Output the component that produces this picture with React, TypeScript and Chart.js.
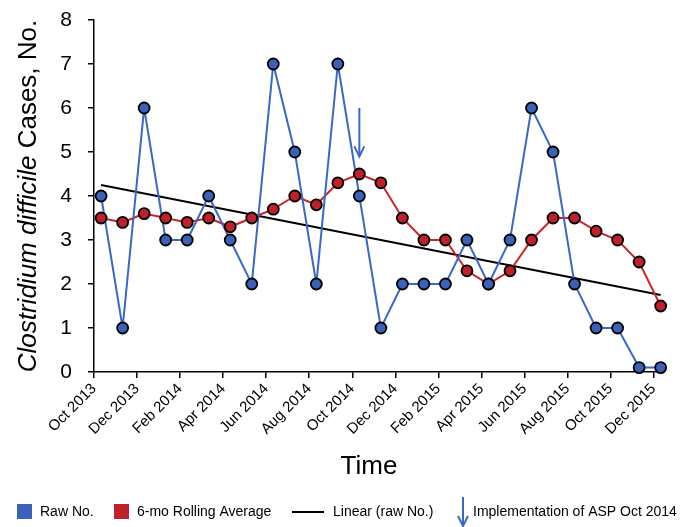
import React, { useEffect, useRef } from "react";
import { Chart, registerables } from "chart.js";

Chart.register(...registerables);

const months = [
  "Oct 2013", "Nov 2013", "Dec 2013", "Jan 2014", "Feb 2014", "Mar 2014", "Apr 2014",
  "May 2014", "Jun 2014", "Jul 2014", "Aug 2014", "Sep 2014", "Oct 2014", "Nov 2014",
  "Dec 2014", "Jan 2015", "Feb 2015", "Mar 2015", "Apr 2015", "May 2015", "Jun 2015",
  "Jul 2015", "Aug 2015", "Sep 2015", "Oct 2015", "Nov 2015", "Dec 2015",
];
const tickLabels = [
  "Oct 2013", "Dec 2013", "Feb 2014", "Apr 2014", "Jun 2014", "Aug 2014", "Oct 2014",
  "Dec 2014", "Feb 2015", "Apr 2015", "Jun 2015", "Aug 2015", "Oct 2015", "Dec 2015",
];
const rawCases = [4, 1, 6, 3, 3, 4, 3, 2, 7, 5, 2, 7, 4, 1, 2, 2, 2, 3, 2, 3, 6, 5, 2, 1, 1, 0.1, 0.1];
const rollingAverage = [
  3.5, 3.4, 3.6, 3.5, 3.4, 3.5, 3.3, 3.5, 3.7, 4.0, 3.8, 4.3, 4.5, 4.3, 3.5, 3.0, 3.0, 2.3,
  2.0, 2.3, 3.0, 3.5, 3.5, 3.2, 3.0, 2.5, 1.5,
];
const trendStart = 4.25;
const trendEnd = 1.75;
const arrowMonth = "Oct 2014";
const arrowFrom = 6.0;
const arrowTo = 4.9;

const FONT = '"Liberation Sans", Arial, sans-serif';
const BLUE_FILL = "#3b62b9";
const BLUE_LINE = "#3a68c6";
const RED_FILL = "#c0202a";
const RED_LINE = "#cc2229";
const POINT_OFFSET = 0.33;

const posOf = (i: number) => i + POINT_OFFSET;

function drawArrow(ctx: CanvasRenderingContext2D, x: number, y1: number, y2: number, color: string) {
  ctx.save();
  ctx.strokeStyle = color;
  ctx.lineWidth = 2;
  ctx.beginPath();
  ctx.moveTo(x, y1);
  ctx.lineTo(x, y2);
  ctx.stroke();
  ctx.beginPath();
  ctx.moveTo(x - 5, y2 - 10);
  ctx.lineTo(x, y2);
  ctx.lineTo(x + 5, y2 - 10);
  ctx.stroke();
  ctx.restore();
}

const decorations = {
  id: "decorations",
  afterDraw(chart: any) {
    const ctx: CanvasRenderingContext2D = chart.ctx;
    const xs = chart.scales.x;
    const ys = chart.scales.y;

    // implementation arrow
    const ai = months.indexOf(arrowMonth);
    drawArrow(ctx, xs.getPixelForValue(posOf(ai)), ys.getPixelForValue(arrowFrom), ys.getPixelForValue(arrowTo), BLUE_LINE);

    // y title
    ctx.save();
    ctx.fillStyle = "#000";
    ctx.textBaseline = "middle";
    ctx.translate(29, 196);
    ctx.rotate(-Math.PI / 2);
    const italicPart = "Clostridium difficile";
    const normalPart = " Cases, No.";
    ctx.font = `italic 26px ${FONT}`;
    const w1 = ctx.measureText(italicPart).width;
    ctx.font = `26px ${FONT}`;
    const w2 = ctx.measureText(normalPart).width;
    const start = -(w1 + w2) / 2;
    ctx.font = `italic 26px ${FONT}`;
    ctx.textAlign = "left";
    ctx.fillText(italicPart, start, 0);
    ctx.font = `26px ${FONT}`;
    ctx.fillText(normalPart, start + w1, 0);
    ctx.restore();

    // x title
    ctx.save();
    ctx.fillStyle = "#000";
    ctx.font = `26px ${FONT}`;
    ctx.textAlign = "center";
    ctx.textBaseline = "middle";
    ctx.fillText("Time", 369, 467);
    ctx.restore();

    // legend
    ctx.save();
    ctx.font = `14px ${FONT}`;
    ctx.textBaseline = "middle";
    ctx.textAlign = "left";
    ctx.fillStyle = BLUE_FILL;
    ctx.fillRect(17, 504, 15, 15);
    ctx.fillStyle = RED_FILL;
    ctx.fillRect(114, 504, 15, 15);
    ctx.fillStyle = "#000";
    ctx.fillText("Raw No.", 40, 512);
    ctx.fillText("6-mo Rolling Average", 137, 512);
    ctx.strokeStyle = "#000";
    ctx.lineWidth = 2;
    ctx.beginPath();
    ctx.moveTo(292, 512);
    ctx.lineTo(324, 512);
    ctx.stroke();
    ctx.fillText("Linear (raw No.)", 333, 512);
    ctx.fillText("Implementation of ASP Oct 2014", 473, 512);
    ctx.restore();
    drawArrow(ctx, 463, 497, 526, BLUE_LINE);
  },
};

export default function App() {
  const ref = useRef<HTMLCanvasElement | null>(null);

  useEffect(() => {
    if (!ref.current) return;
    const rawPts = rawCases.map((v, i) => ({ x: posOf(i), y: v }));
    const avgPts = rollingAverage.map((v, i) => ({ x: posOf(i), y: v }));
    const trendPts = [
      { x: posOf(0), y: trendStart },
      { x: posOf(months.length - 1), y: trendEnd },
    ];
    const marker = { pointRadius: 5.5, pointBorderWidth: 1.8, pointBorderColor: "#000", showLine: false };
    const chart = new Chart(ref.current, {
      type: "line",
      data: {
        datasets: [
          { label: "Raw No. markers", data: rawPts, pointBackgroundColor: BLUE_FILL, ...marker },
          { label: "Avg markers", data: avgPts, pointBackgroundColor: RED_FILL, ...marker },
          { label: "Raw No.", data: rawPts, borderColor: BLUE_LINE, borderWidth: 2, pointRadius: 0, tension: 0 },
          { label: "6-mo Rolling Average", data: avgPts, borderColor: RED_LINE, borderWidth: 2, pointRadius: 0, tension: 0 },
          { label: "Linear (raw No.)", data: trendPts, borderColor: "#000", borderWidth: 1.8, pointRadius: 0, tension: 0 },
        ] as any,
      },
      options: {
        animation: false,
        responsive: false,
        maintainAspectRatio: false,
        layout: { padding: { left: 0, right: 39, top: 20, bottom: 0 } },
        plugins: { legend: { display: false }, tooltip: { enabled: false } },
        elements: { line: { fill: false } },
        datasets: { line: { clip: false } as any },
        scales: {
          x: {
            type: "linear",
            min: 0,
            max: 26.3,
            afterFit: (s: any) => {
              s.height = 155;
              s.paddingLeft = 0;
              s.paddingRight = 0;
            },
            afterBuildTicks: (s: any) => {
              s.ticks = tickLabels.map((lab) => ({ value: months.indexOf(lab) }));
            },
            ticks: {
              autoSkip: false,
              minRotation: 45,
              maxRotation: 45,
              padding: 2,
              color: "#000",
              font: { size: 15, family: FONT },
              callback: (v: any) => months[Math.round(Number(v))] ?? "",
            },
            grid: { drawOnChartArea: false, drawTicks: true, tickLength: 6, color: "#000", lineWidth: 1.5 },
            border: { display: true, color: "#000", width: 1.5 },
          },
          y: {
            min: 0,
            max: 8,
            afterFit: (s: any) => {
              s.width = 94;
              s.paddingTop = 0;
              s.paddingBottom = 0;
            },
            ticks: { stepSize: 1, padding: 16, color: "#000", font: { size: 21, family: FONT } },
            grid: { drawOnChartArea: false, drawTicks: true, tickLength: 6, color: "#000", lineWidth: 1.5 },
            border: { display: true, color: "#000", width: 1.5 },
          },
        },
      } as any,
      plugins: [decorations],
    });
    return () => chart.destroy();
  }, []);

  return (
    <div style={{ position: "fixed", left: 0, top: 0, width: 699, height: 527, background: "#fff" }}>
      <canvas ref={ref} width={699} height={527} style={{ width: 699, height: 527, display: "block" }} />
    </div>
  );
}
